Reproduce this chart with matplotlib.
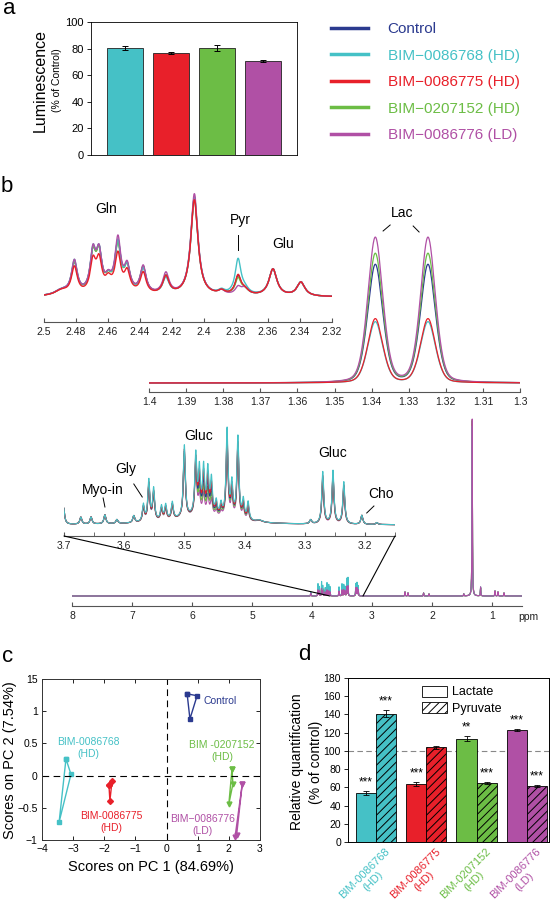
import numpy as np
import matplotlib.pyplot as plt
from matplotlib.lines import Line2D
from matplotlib.patches import Patch, ConnectionPatch
from matplotlib.ticker import FormatStrFormatter

plt.rcParams['font.family'] = ['Liberation Sans', 'DejaVu Sans']
plt.rcParams['hatch.linewidth'] = 0.7

W, H = 554, 900

# ---------------- data ----------------
groups = ['Control', 'BIM−0086768 (HD)', 'BIM−0086775 (HD)', 'BIM−0207152 (HD)', 'BIM−0086776 (LD)']
colors = ['#2b3a8f', '#45c1c6', '#e8202a', '#6cbd45', '#b050a5']

# a: luminescence
lum_vals = [80.5, 76.5, 80.5, 70.5]
lum_err = [1.6, 0.8, 2.2, 0.9]

# b: peak tables (ppm, half width, height per group: ctrl, 768, 775, 152, 776)
top_ppm = [2.489, 2.481, 2.4694, 2.4656, 2.4598, 2.4538, 2.448, 2.438, 2.4238, 2.455,
           2.406, 2.389, 2.3787, 2.3745, 2.3569, 2.3394]
top_w = [0.005, 0.0022, 0.0021, 0.0021, 0.0022, 0.0021, 0.0021, 0.0022, 0.0024, 0.010,
         0.0027, 0.0025, 0.0022, 0.003, 0.003, 0.003]
top_ctrl = [5, 31, 37, 37, 10, 46, 23, 26, 18, 5, 98, 4, 18, 5, 27, 14]
top_768 = [5, 33, 39, 37, 10, 46, 23, 25, 16, 5, 98, 4, 35, 5, 27, 14]
top_775 = [5, 27, 30, 30, 10, 35, 19, 21, 18, 5, 96, 4, 19, 5, 27, 14]
top_152 = [5, 31, 37, 36, 10, 44, 23, 26, 18, 5, 98, 4, 16, 5, 27, 14]
top_776 = [5, 33, 39, 37, 10, 50, 24, 27, 21, 5, 102, 4, 7, 7, 27, 14]

lac_ppm = [1.339, 1.3248]
lac_ctrl = [118, 118]
lac_768 = [61, 61]
lac_775 = [64, 64]
lac_152 = [129, 129]
lac_776 = [145, 145]

low_ppm = [3.701, 3.672, 3.655, 3.632, 3.612, 3.584, 3.568, 3.559, 3.551, 3.538, 3.531, 3.520,
           3.500, 3.481, 3.475, 3.468, 3.461, 3.455, 3.447, 3.439, 3.429, 3.421, 3.411, 3.402,
           3.394, 3.375, 3.290, 3.270, 3.253, 3.235, 3.205, 3.180, 3.47]
low_w = [0.002] * 25 + [0.006] + [0.002] * 6 + [0.06]
low_ctrl = [20, 7, 7, 9, 4, 7, 15, 36, 28, 12, 13, 15, 66, 54, 32, 34, 32, 26, 10, 9, 78, 28, 74, 15,
            14, 2, 4, 46, 48, 38, 9, 2, 8]
low_768 = [20, 7, 7, 9, 4, 7, 17, 41, 32, 14, 15, 17, 72, 60, 44, 46, 44, 35, 14, 12, 88, 34, 82, 19,
           18, 2, 4, 52, 53, 42, 9, 2, 8]
low_775 = [20, 7, 7, 9, 4, 7, 15, 38, 29, 12, 13, 15, 68, 56, 38, 40, 38, 30, 12, 10, 82, 30, 76, 16,
           15, 2, 4, 48, 49, 39, 9, 2, 8]
low_152 = [20, 7, 7, 9, 4, 7, 14, 36, 27, 11, 12, 14, 64, 52, 25, 27, 25, 21, 8, 7, 74, 24, 70, 13,
           12, 2, 4, 44, 45, 36, 9, 2, 8]
low_776 = [20, 7, 7, 9, 4, 7, 13, 34, 26, 10, 11, 13, 62, 50, 19, 21, 19, 16, 6, 5, 66, 20, 62, 11,
           10, 2, 4, 40, 40, 32, 9, 2, 8]

full_ppm = [4.02, 3.90, 3.88, 3.84, 3.82, 3.78, 3.75, 3.72, 3.70, 3.55, 3.50, 3.47, 3.45, 3.42,
            3.40, 3.27, 3.25, 3.23, 2.45, 2.40, 2.14, 2.05, 1.47, 1.33, 1.19, 0.95, 0.90, 0.80]
full_ctrl = [3, 7, 6, 8, 6, 5, 7, 6, 5, 5, 7, 6, 5, 9, 10, 8, 9, 7, 4, 3, 3, 2, 2, 175, 8, 5, 4, 3]
full_768 = [4, 12, 9, 14, 10, 8, 13, 11, 9, 9, 12, 11, 9, 17, 18, 12, 13, 10, 4, 3, 3, 2, 2, 170, 9, 5, 4, 3]
full_775 = [3, 8, 7, 9, 7, 6, 8, 7, 6, 6, 8, 7, 6, 10, 11, 9, 10, 8, 4, 3, 3, 2, 2, 172, 8, 5, 4, 3]
full_152 = [3, 7, 6, 8, 6, 5, 7, 6, 5, 5, 7, 6, 5, 9, 10, 8, 9, 7, 4, 3, 3, 2, 2, 176, 8, 5, 4, 3]
full_776 = [3, 6, 5, 7, 5, 4, 6, 5, 4, 5, 6, 6, 5, 9, 10, 8, 8, 6, 4, 3, 3, 2, 2, 177, 9, 5, 4, 3]

# c: PCA scores
pc_ctrl_x = [0.66, 0.98, 0.75]
pc_ctrl_y = [1.27, 1.24, 0.88]
pc_768_x = [-3.23, -3.07, -3.45]
pc_768_y = [0.26, 0.02, -0.72]
pc_775_x = [-1.85, -1.75, -1.82]
pc_775_y = [-0.15, -0.08, -0.39]
pc_152_x = [2.10, 2.13, 2.00]
pc_152_y = [0.10, -0.13, -0.44]
pc_776_x = [2.43, 2.20, 2.25]
pc_776_y = [-0.13, -0.95, -0.92]

# d: relative quantification
d_labels = ['BIM-0086768\n(HD)', 'BIM-0086775\n(HD)', 'BIM-0207152\n(HD)', 'BIM-0086776\n(LD)']
lac_vals = [53.5, 64, 113.5, 122.5]
lac_err = [2, 2, 3, 1]
pyr_vals = [141, 104, 65, 61.5]
pyr_err = [3.5, 1.5, 1, 1]
lac_sig = ['***', '***', '**', '***']
pyr_sig = ['***', '', '***', '***']


def box(x0, y0, x1, y1):
    return [x0 / W, 1 - y1 / H, (x1 - x0) / W, (y1 - y0) / H]


def ftext(x, y, s, **kw):
    fig.text(x / W, 1 - y / H, s, **kw)


def lorentz(x, p, w):
    return w ** 2 / ((x - p) ** 2 + w ** 2)


def spectrum(x, ppm, width, heights):
    y = np.zeros_like(x)
    for p, w, h in zip(ppm, width, heights):
        y += h * lorentz(x, p, w)
    return y


def lac_shape(x, ppm, heights, s=0.0021, eta=0.3):
    y = np.zeros_like(x)
    for p, h in zip(ppm, heights):
        y += h * ((1 - eta) * np.exp(-0.5 * ((x - p) / s) ** 2) + eta * lorentz(x, p, s))
    return y


def spec_axes(rect, xlim, ylim, major, minor=None):
    ax = fig.add_axes(rect)
    ax.patch.set_visible(False)
    for s in ['left', 'right', 'top']:
        ax.spines[s].set_visible(False)
    ax.spines['bottom'].set_color('#555555')
    ax.set_xlim(xlim)
    ax.set_ylim(ylim)
    ax.set_yticks([])
    ax.set_xticks(major)
    if minor is not None:
        ax.set_xticks(minor, minor=True)
    ax.xaxis.set_major_formatter(FormatStrFormatter('%g'))
    ax.tick_params(axis='x', which='both', direction='in', length=3, color='#555555',
                   labelcolor='#222222', labelsize=7.5, pad=3.5)
    return ax


fig = plt.figure(figsize=(W / 100, H / 100), dpi=100)

# ---------------- a ----------------
axa = fig.add_axes(box(91, 22, 297, 155))
xa = np.arange(4)
axa.bar(xa, lum_vals, 0.78, yerr=lum_err, color=colors[1:], edgecolor='#222222', lw=0.6,
        capsize=2, error_kw=dict(lw=0.7, capthick=0.7))
axa.set_xlim(-0.74, 3.74)
axa.set_ylim(0, 100)
axa.set_yticks(np.arange(0, 101, 20))
axa.set_xticks([])
axa.tick_params(axis='y', labelsize=8, length=3, width=0.6, pad=2)
for s in axa.spines.values():
    s.set_linewidth(0.6)
ftext(40, 80, 'Luminescence', rotation=90, ha='center', va='center', fontsize=11.5)
ftext(57, 80, '(% of Control)', rotation=90, ha='center', va='center', fontsize=7.5)

handles = [Line2D([], [], color=c, lw=2.5) for c in colors]
fig.legend(handles, groups, loc='upper left', bbox_to_anchor=(325 / W, 1 - 16 / H),
           frameon=False, fontsize=11, handlelength=2.4, handletextpad=1.3,
           labelspacing=0.82, labelcolor=colors, borderaxespad=0)

# ---------------- b ----------------
draw_order = [0, 3, 1, 4, 2]

ax1 = spec_axes(box(44, 180, 332, 322), (2.5, 2.32), (-25, 117),
                np.round(np.arange(2.32, 2.501, 0.02), 2))
x1 = np.linspace(2.32, 2.5, 1500)
top_sets = [top_ctrl, top_768, top_775, top_152, top_776]
for i in draw_order:
    ax1.plot(x1, spectrum(x1, top_ppm, top_w, top_sets[i]), color=colors[i], lw=1.0)
ax1.text(2.461, 88, 'Gln', ha='center', va='center', fontsize=10)
ax1.text(2.3775, 77, 'Pyr', ha='center', va='center', fontsize=10)
ax1.plot([2.3787, 2.3787], [62, 47], color='k', lw=0.7)
ax1.text(2.3506, 53, 'Glu', ha='center', va='center', fontsize=10)

ax2 = spec_axes(box(149, 225, 520, 392), (1.4, 1.3), (-9, 158),
                np.round(np.arange(1.3, 1.401, 0.01), 2))
x2 = np.linspace(1.3, 1.4, 1500)
lac_sets = [lac_ctrl, lac_768, lac_775, lac_152, lac_776]
for i in draw_order:
    ax2.plot(x2, lac_shape(x2, lac_ppm, lac_sets[i]), color=colors[i], lw=0.9)
ax2.text(1.3318, 170, 'Lac', ha='center', va='center', fontsize=10, clip_on=False)
ax2.plot([1.3369, 1.335], [152, 158], color='k', lw=0.7, clip_on=False)
ax2.plot([1.3288, 1.3272], [157, 151], color='k', lw=0.7, clip_on=False)

ax3 = spec_axes(box(64, 420, 395, 536), (3.7, 3.15), (-11, 105),
                np.round(np.arange(3.2, 3.701, 0.1), 1),
                np.round(np.arange(3.15, 3.66, 0.1), 2))
x3 = np.linspace(3.15, 3.7, 4000)
low_sets = [low_ctrl, low_768, low_775, low_152, low_776]
for i in [4, 3, 0, 2, 1]:
    ax3.plot(x3, spectrum(x3, low_ppm, low_w, low_sets[i]), color=colors[i], lw=0.8)
ax3.text(3.476, 89, 'Gluc', ha='center', va='center', fontsize=10)
ax3.text(3.597, 56, 'Gly', ha='center', va='center', fontsize=10)
ax3.plot([3.584, 3.570], [41, 28], color='k', lw=0.7)
ax3.text(3.635, 35, 'Myo-in', ha='center', va='center', fontsize=10)
ax3.plot([3.635, 3.632], [27, 18], color='k', lw=0.7)
ax3.text(3.2532, 72, 'Gluc', ha='center', va='center', fontsize=10)
ax3.text(3.173, 31, 'Cho', ha='center', va='center', fontsize=10)
ax3.plot([3.197, 3.185], [12, 19], color='k', lw=0.7)

ax4 = spec_axes(box(72, 410, 522, 606), (8, 0.5), (-10, 186), np.arange(1, 9))
x4 = np.linspace(0.5, 8, 7501)
full_sets = [full_ctrl, full_768, full_775, full_152, full_776]
full_w = [0.004] * len(full_ppm)
for i in [0, 2, 3, 1, 4]:
    ax4.plot(x4, spectrum(x4, full_ppm, full_w, full_sets[i]), color=colors[i], lw=0.8)
ftext(528, 617, 'ppm', ha='center', va='center', fontsize=7.5, color='#222222')

for xp in (3.7, 3.15):
    con = ConnectionPatch(xyA=(xp, -11), coordsA=ax3.transData, xyB=(xp, 0),
                          coordsB=ax4.transData, color='k', lw=0.8)
    fig.add_artist(con)

# ---------------- c ----------------
axc = fig.add_axes(box(42, 679, 260, 840))
pc_sets = [(pc_ctrl_x, pc_ctrl_y, 's'), (pc_768_x, pc_768_y, 's'), (pc_775_x, pc_775_y, 'D'),
           (pc_152_x, pc_152_y, 'v'), (pc_776_x, pc_776_y, 'v')]
for (px, py, m), c in zip(pc_sets, colors):
    axc.plot(px + px[:1], py + py[:1], color=c, lw=1, marker=m, ms=3.5 if m != 'D' else 3)
axc.axhline(0, color='k', lw=0.8, ls=(0, (6, 4)))
axc.axvline(0, color='k', lw=0.8, ls=(0, (6, 4)))
axc.set_xlim(-4, 3)
axc.set_ylim(-1, 1.5)
axc.set_xticks(np.arange(-4, 4))
axc.set_xticklabels(['−4', '−3', '−2', '−1', '0', '1', '2', '3'])
axc.set_yticks([-1, -0.5, 0, 0.5, 1, 1.5])
axc.set_yticklabels(['−1', '−0.5', '0', '0.5', '1', '15'])
axc.tick_params(direction='in', top=True, right=True, labelsize=7.5, length=3, width=0.6, pad=3)
for s in axc.spines.values():
    s.set_linewidth(0.7)
    s.set_color('#333333')
axc.text(1.17, 1.16, 'Control', color=colors[0], fontsize=7.5, va='center')
axc.text(-2.52, 0.43, 'BIM-0086768\n(HD)', color=colors[1], fontsize=7.5, ha='center', va='center')
axc.text(-1.78, -0.72, 'BIM-0086775\n(HD)', color=colors[2], fontsize=7.5, ha='center', va='center')
axc.text(1.78, 0.38, 'BIM -0207152\n(HD)', color=colors[3], fontsize=7.5, ha='center', va='center')
axc.text(1.14, -0.77, 'BIM−0086776\n(LD)', color=colors[4], fontsize=7.5, ha='center', va='center')
ftext(151, 867, 'Scores on PC 1 (84.69%)', ha='center', va='center', fontsize=10.5)
ftext(10, 760, 'Scores on PC 2 (7.54%)', ha='center', va='center', fontsize=10.5, rotation=90)

# ---------------- d ----------------
axd = fig.add_axes(box(348, 678, 549, 842))
xd = np.arange(4)
bar_cols = colors[1:]
axd.bar(xd - 0.2, lac_vals, 0.4, yerr=lac_err, color=bar_cols, edgecolor='k', lw=0.6,
        capsize=2, error_kw=dict(lw=0.6, capthick=0.6))
axd.bar(xd + 0.2, pyr_vals, 0.4, yerr=pyr_err, color=bar_cols, edgecolor='k', lw=0.6,
        hatch='////', capsize=2, error_kw=dict(lw=0.6, capthick=0.6))
for i in range(4):
    axd.text(xd[i] - 0.2, lac_vals[i] + lac_err[i] + 3, lac_sig[i], ha='center', va='bottom', fontsize=8.5)
    axd.text(xd[i] + 0.2, pyr_vals[i] + pyr_err[i] + 3, pyr_sig[i], ha='center', va='bottom', fontsize=8.5)
axd.axhline(100, color='#888888', lw=0.8, ls=(0, (5, 3)), zorder=0)
axd.set_xlim(-0.557, 3.44)
axd.set_ylim(0, 180)
axd.set_yticks(np.arange(0, 181, 20))
axd.set_xticks([])
for i, (lab, c) in enumerate(zip(d_labels, bar_cols)):
    axd.annotate(lab, xy=(xd[i], 0), xycoords=('data', 'axes fraction'), xytext=(6.5, -3),
                 textcoords='offset points', rotation=45, ha='right', va='top',
                 rotation_mode='anchor', multialignment='center', fontsize=8, color=c)
axd.tick_params(axis='y', labelsize=7.5, length=3, width=0.6, pad=2)
for s in axd.spines.values():
    s.set_linewidth(0.7)
leg_handles = [Patch(facecolor='white', edgecolor='k', lw=0.6, label='Lactate'),
               Patch(facecolor='white', edgecolor='k', lw=0.6, hatch='////', label='Pyruvate')]
axd.legend(handles=leg_handles, loc='upper left', bbox_to_anchor=(0.33, 1.0), frameon=False,
           fontsize=9, handlelength=2.0, handleheight=1.0, handletextpad=0.4, labelspacing=0.3,
           borderaxespad=0.2)
ftext(297, 762, 'Relative quantification', rotation=90, ha='center', va='center', fontsize=10)
ftext(316, 762, '(% of control)', rotation=90, ha='center', va='center', fontsize=10)

# panel letters
for s, x, y in [('a', 9, 9), ('b', 7, 186), ('c', 8, 656), ('d', 304, 655)]:
    ftext(x, y, s, ha='center', va='center', fontsize=16)

fig.savefig('out.png', dpi=100)
